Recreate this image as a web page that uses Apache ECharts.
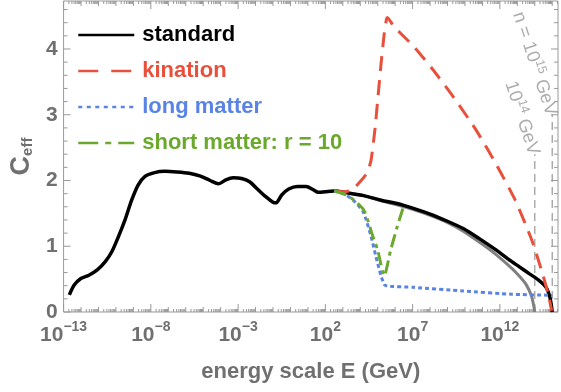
<!DOCTYPE html>
<html>
<head>
<meta charset="utf-8">
<script src="https://cdn.jsdelivr.net/npm/echarts@6/dist/echarts.min.js"></script>
<style>
  html, body { margin: 0; padding: 0; background: #fff; }
  #chart { width: 561px; height: 392px; }
</style>
</head>
<body>
<div id="chart"></div>
<script>
// x values are log10(E / GeV), y values are C_eff

// standard cosmology
const standardX = [-12.67, -12.39, -12.01, -11.55, -11.07, -10.6, -10.23, -9.85, -9.48, -9.1, -8.73, -8.35, -7.79, -7.2, -6.5, -5.8, -5.2, -4.6, -4.12, -3.7, -3.28, -2.8, -2.34, -1.9, -1.4, -1.0, -0.84, -0.5, -0.1, 0.4, 0.9, 1.3, 1.61, 2.0, 2.5, 3.3, 4.2, 5.2, 6.1, 7.0, 8.0, 9.0, 9.9, 10.8, 11.8, 12.5, 13.1, 13.7, 14.2, 14.5, 14.7, 14.86, 14.95, 15.0];
const standardY = [0.26, 0.41, 0.51, 0.56, 0.64, 0.77, 0.92, 1.15, 1.40, 1.70, 1.93, 2.06, 2.12, 2.14, 2.13, 2.11, 2.07, 2.00, 1.95, 2.01, 2.04, 2.03, 1.98, 1.87, 1.75, 1.67, 1.66, 1.78, 1.87, 1.91, 1.91, 1.86, 1.82, 1.83, 1.84, 1.81, 1.77, 1.70, 1.65, 1.58, 1.49, 1.38, 1.27, 1.12, 0.94, 0.80, 0.69, 0.58, 0.49, 0.42, 0.35, 0.23, 0.10, 0.0];

// standard cosmology cut off at 10^14 GeV
const cut14X = [3.3, 4.2, 5.2, 6.1, 7.0, 8.0, 9.0, 9.9, 11.0, 11.8, 12.7, 13.2, 13.5, 13.8, 13.95, 14.0];
const cut14Y = [1.81, 1.77, 1.69, 1.63, 1.56, 1.47, 1.36, 1.23, 1.03, 0.87, 0.66, 0.52, 0.42, 0.25, 0.08, 0.0];

// kination
const kinationX = [2.5, 3.0, 3.5, 4.05, 4.4, 4.62, 4.85, 5.0, 5.2, 5.38, 5.5, 5.55, 5.93, 7.06, 8.18, 9.31, 10.63, 11.76, 12.88, 13.82, 14.38, 14.76, 14.97];
const kinationY = [1.84, 1.83, 1.85, 2.0, 2.12, 2.31, 2.8, 3.23, 3.8, 4.25, 4.45, 4.48, 4.34, 4.04, 3.68, 3.28, 2.77, 2.26, 1.70, 1.10, 0.64, 0.28, 0.02];

// long matter domination
const longMatterX = [2.5, 3.11, 3.68, 4.15, 4.34, 4.62, 4.9, 5.18, 5.4, 5.7, 7.06, 9.88, 12.7, 14.76, 15.0];
const longMatterY = [1.84, 1.79, 1.68, 1.53, 1.40, 1.15, 0.84, 0.56, 0.41, 0.39, 0.375, 0.32, 0.27, 0.255, 0.25];

// short matter domination, r = 10
const shortMatterX = [2.5, 3.11, 3.7, 4.18, 4.4, 4.66, 5.0, 5.27, 5.37, 5.74, 6.12, 6.45];
const shortMatterY = [1.84, 1.79, 1.69, 1.56, 1.42, 1.20, 0.94, 0.62, 0.55, 0.94, 1.30, 1.58];

// vertical cutoff markers
const cutoffExp = [14, 15];
const cutoffTop = [2.40, 3.00];
const cutoffPrefix = ['', 'n = '];

// axis ranges and labels
const xMin = -13, xMax = 15.33, xLabelStep = 5;
const yMin = 0, yMax = 4.73;
const legendNames = ['standard', 'kination', 'long matter', 'short matter: r = 10'];

const FONT = '"Liberation Sans", Arial, Helvetica, sans-serif';
const AXIS_GREY = '#707070';
const FRAME = '#999999';
const C_BLACK = '#000000';
const C_GREY = '#808080';
const C_RED = '#e8503c';
const C_BLUE = '#5a83e6';
const C_GREEN = '#6aa92c';

const zip = (xs, ys) => xs.map((x, i) => [x, ys[i]]);

// tick marks for the log energy axis: decades and the 2..9 subdivisions
const xTicks = [];
for (let n = Math.ceil(xMin); n <= Math.floor(xMax); n++) {
  const labelled = (n - xMin) % xLabelStep === 0;
  xTicks.push([n, labelled ? 8 : 5]);
  for (let k = 2; k <= 9; k++) {
    const v = n + Math.log10(k);
    if (v < xMax) xTicks.push([v, 3]);
  }
}
// tick marks for C_eff: every 0.2, longer at integers
const yTicks = [];
for (let i = 0; i * 0.2 <= yMax + 1e-9; i++) {
  const v = +(i * 0.2).toFixed(1);
  yTicks.push([v, Number.isInteger(v) ? 7 : 4]);
}

function supExp(n) {
  return n < 0 ? '\u2212' + Math.abs(n) : String(n);
}

const chart = echarts.init(document.getElementById('chart'), null, { renderer: 'canvas' });

const lineBase = {
  type: 'line',
  showSymbol: false,
  symbol: 'none',
  silent: true,
  animation: false
};

const option = {
  animation: false,
  textStyle: { fontFamily: FONT },
  grid: {
    left: 58, right: 1, top: 1, bottom: 80,
    show: true, borderColor: FRAME, borderWidth: 1, backgroundColor: 'transparent'
  },
  legend: {
    orient: 'vertical',
    left: 72,
    top: 19,
    itemWidth: 56,
    itemHeight: 14,
    itemGap: 14,
    selectedMode: false,
    itemStyle: { color: 'rgba(0,0,0,0)', borderWidth: 0, opacity: 0 },
    textStyle: { fontSize: 22, fontWeight: 'bold', fontFamily: FONT, lineHeight: 22, padding: [0, 0, 0, 3] },
    data: [
      { name: legendNames[0], textStyle: { color: C_BLACK }, lineStyle: { width: 2.5 } },
      { name: legendNames[1], textStyle: { color: C_RED }, lineStyle: { width: 2.5, type: [20, 13] } },
      { name: legendNames[2], textStyle: { color: C_BLUE }, lineStyle: { width: 2.5, type: [4, 4.5] } },
      { name: legendNames[3], textStyle: { color: C_GREEN }, lineStyle: { width: 2.5, type: [20, 7, 6, 7] } }
    ]
  },
  xAxis: {
    type: 'value',
    min: xMin,
    max: xMax,
    interval: xLabelStep,
    name: 'energy scale E (GeV)',
    nameLocation: 'middle',
    nameGap: 49,
    nameTextStyle: { fontSize: 22, fontWeight: 'bold', color: AXIS_GREY, fontFamily: FONT },
    axisLine: { show: false },
    axisTick: { show: false },
    splitLine: { show: false },
    axisLabel: {
      margin: 8,
      formatter: function (v) {
        const n = Math.round(v);
        if (Math.abs(v - n) > 1e-6 || (n - xMin) % xLabelStep !== 0) return '';
        return '{b|10}{s|' + supExp(n) + '}';
      },
      rich: {
        b: { fontSize: 21, fontWeight: 'bold', color: AXIS_GREY, fontFamily: FONT, verticalAlign: 'bottom', lineHeight: 26 },
        s: { fontSize: 14, fontWeight: 'bold', color: AXIS_GREY, fontFamily: FONT, verticalAlign: 'top', lineHeight: 16 }
      }
    }
  },
  yAxis: {
    type: 'value',
    min: yMin,
    max: yMax,
    interval: 1,
    name: '{c|C}{e|eff}',
    nameLocation: 'middle',
    nameRotate: 90,
    nameGap: 26,
    nameTextStyle: {
      rich: {
        c: { fontSize: 27, fontWeight: 'bold', color: AXIS_GREY, fontFamily: FONT },
        e: { fontSize: 15, fontWeight: 'bold', color: AXIS_GREY, fontFamily: FONT, verticalAlign: 'bottom' }
      }
    },
    axisLine: { show: false },
    axisTick: { show: false },
    splitLine: { show: false },
    axisLabel: {
      margin: 6,
      fontSize: 21,
      fontWeight: 'bold',
      color: AXIS_GREY,
      fontFamily: FONT,
      formatter: function (v) {
        return Math.abs(v - Math.round(v)) < 1e-6 ? String(Math.round(v)) : '';
      }
    }
  },
  series: [
    {
      name: 'x ticks',
      type: 'custom',
      silent: true,
      z: 1,
      data: xTicks,
      renderItem: function (params, api) {
        const v = api.value(0), len = api.value(1);
        const b = api.coord([v, yMin]);
        const t = api.coord([v, yMax]);
        const st = { stroke: FRAME, lineWidth: 1 };
        return {
          type: 'group',
          children: [
            { type: 'line', shape: { x1: b[0], y1: b[1], x2: b[0], y2: b[1] - len }, style: st },
            { type: 'line', shape: { x1: t[0], y1: t[1], x2: t[0], y2: t[1] + len }, style: st }
          ]
        };
      }
    },
    {
      name: 'y ticks',
      type: 'custom',
      silent: true,
      z: 1,
      data: yTicks.map(d => [xMin, d[0], d[1]]),
      renderItem: function (params, api) {
        const v = api.value(1), len = api.value(2);
        const l = api.coord([xMin, v]);
        const r = api.coord([xMax, v]);
        const st = { stroke: FRAME, lineWidth: 1 };
        return {
          type: 'group',
          children: [
            { type: 'line', shape: { x1: l[0], y1: l[1], x2: l[0] + len, y2: l[1] }, style: st },
            { type: 'line', shape: { x1: r[0], y1: r[1], x2: r[0] - len, y2: r[1] }, style: st }
          ]
        };
      }
    },
    // dashed vertical cutoff lines
    ...cutoffExp.map((e, i) => Object.assign({}, lineBase, {
      name: 'cutoff ' + e,
      z: 2,
      data: [[e, 0], [e, cutoffTop[i]]],
      lineStyle: { color: '#a0a0a0', width: 1.3, type: [8, 5] }
    })),
    // rotated cutoff labels
    {
      name: 'cutoff labels',
      type: 'scatter',
      silent: true,
      z: 3,
      symbolSize: 1,
      itemStyle: { color: 'rgba(0,0,0,0)' },
      data: cutoffExp.map((e, i) => ({ value: [e, cutoffTop[i]], prefix: cutoffPrefix[i], exp: e })),
      label: {
        show: true,
        position: 'inside',
        align: 'right',
        verticalAlign: 'middle',
        rotate: -72,
        formatter: function (p) {
          return '{t|' + p.data.prefix + '10}{s|' + p.data.exp + '}{t| GeV}';
        },
        rich: {
          t: { fontSize: 18.5, color: '#999999', fontFamily: FONT, verticalAlign: 'bottom', lineHeight: 21 },
          s: { fontSize: 12.5, color: '#999999', fontFamily: FONT, verticalAlign: 'top', lineHeight: 13 }
        }
      }
    },
    Object.assign({}, lineBase, {
      name: 'standard (10^14 GeV)',
      z: 4,
      smooth: 0.3,
      data: zip(cut14X, cut14Y),
      lineStyle: { color: C_GREY, width: 3 }
    }),
    Object.assign({}, lineBase, {
      name: legendNames[0],
      z: 5,
      smooth: 0.3,
      data: zip(standardX, standardY),
      itemStyle: { color: C_BLACK },
      lineStyle: { color: C_BLACK, width: 3.5 }
    }),
    Object.assign({}, lineBase, {
      name: legendNames[1],
      z: 6,
      smooth: 0.2,
      data: zip(kinationX, kinationY),
      itemStyle: { color: C_RED },
      lineStyle: { color: C_RED, width: 3, type: [15, 9] }
    }),
    Object.assign({}, lineBase, {
      name: legendNames[2],
      z: 7,
      smooth: 0.2,
      data: zip(longMatterX, longMatterY),
      itemStyle: { color: C_BLUE },
      lineStyle: { color: C_BLUE, width: 3, type: [4, 3] }
    }),
    Object.assign({}, lineBase, {
      name: legendNames[3],
      z: 8,
      smooth: 0.2,
      data: zip(shortMatterX, shortMatterY),
      itemStyle: { color: C_GREEN },
      lineStyle: { color: C_GREEN, width: 3, type: [13, 5, 4, 5] }
    })
  ]
};

chart.setOption(option);
</script>
</body>
</html>
